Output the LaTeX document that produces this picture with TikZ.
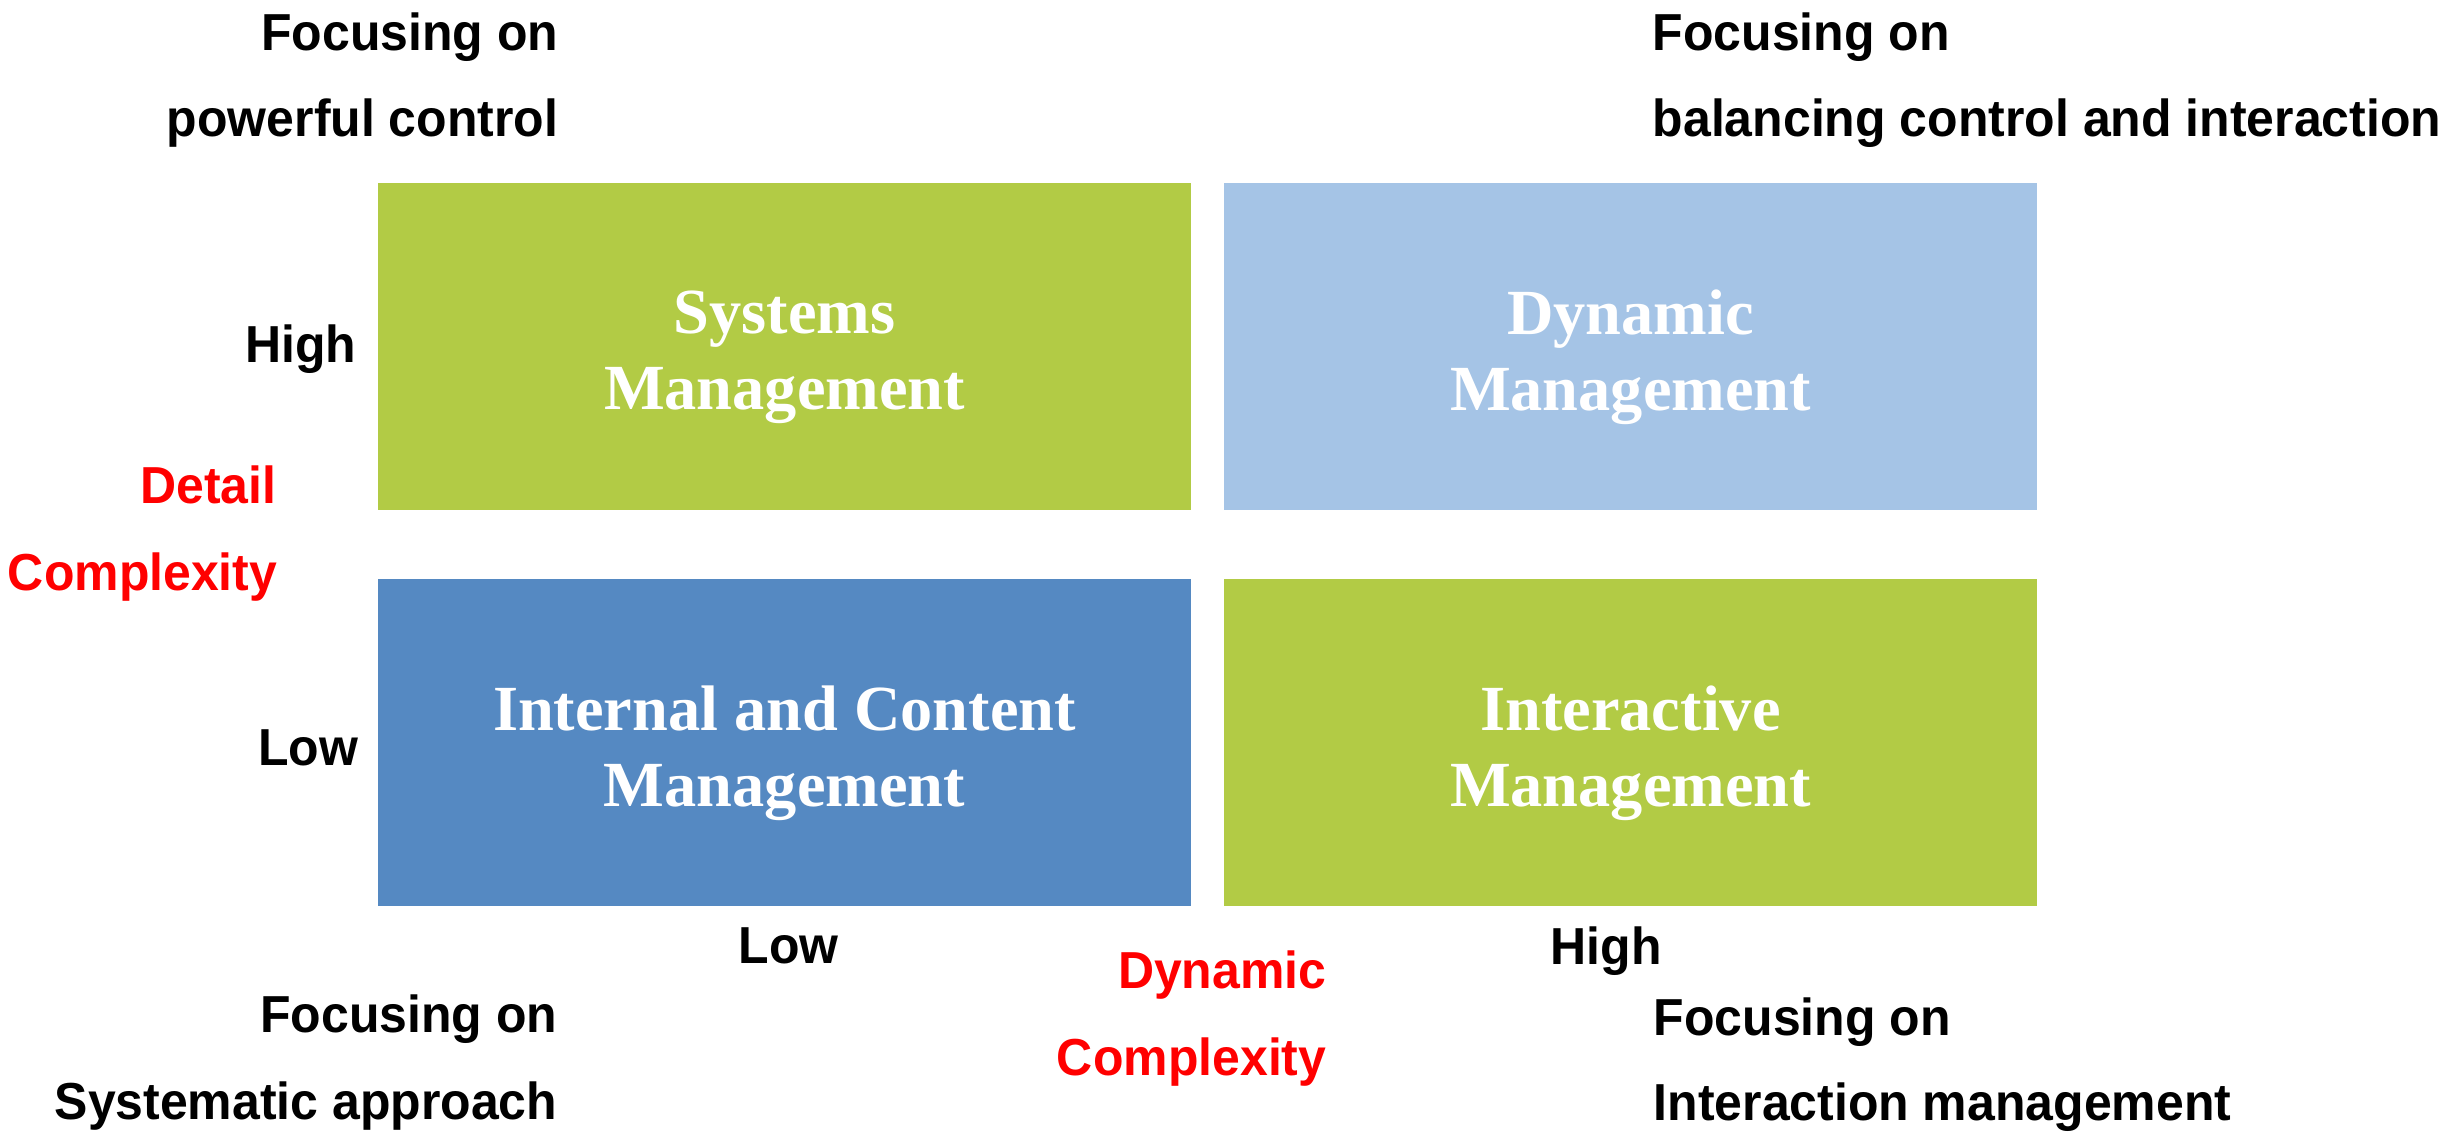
\documentclass[tikz,border=0pt]{standalone}
\usepackage{fontspec}
\setmainfont{Liberation Serif}
\newfontfamily\labfont[FakeStretch=0.96]{Liberation Sans}
\usetikzlibrary{positioning}
\definecolor{sysgreen}{HTML}{B2CB45}
\definecolor{dynblue}{HTML}{A5C4E6}
\definecolor{icmblue}{HTML}{5589C2}
\tikzset{
  quad/.style={draw=none, minimum width=8.13cm, minimum height=3.27cm, inner sep=0pt},
  quadtext/.style={inner sep=0pt, yshift=-0.11cm, text=white, align=center,
    font=\fontsize{18.3}{21.5}\selectfont\bfseries},
  lab/.style={inner sep=0pt, font=\labfont\fontsize{14.8}{17}\selectfont\bfseries},
  redlab/.style={lab, text=red}
}

\begin{document}
\begin{tikzpicture}[x=0.01cm, y=-0.01cm]
			%%%%% START %%%%%
			
			\useasboundingbox (0, 0) rectangle (2458, 1138);
			
			\node[quad, fill=sysgreen] (sys) at (784.5, 346.5) {};
			\node[quad, fill=dynblue] (dyn) at (1630.5, 346.5) {};
			\node[quad, fill=icmblue] (icm) at (784.5, 742.5) {};
			\node[quad, fill=sysgreen] (inter) at (1630.5, 742.5) {};
			
			\node[quadtext] (sysT) at (sys.center) {Systems\\Management};
			\node[quadtext] (dynT) at (dyn.center) {Dynamic\\Management};
			\node[quadtext] (icmT) at (icm.center) {Internal and Content\\Management};
			\node[quadtext] (interT) at (inter.center) {Interactive\\Management};
			
			\node[lab, anchor=base east] (tlA) at (559, 50) {Focusing on};
			\node[lab, anchor=base east] (tlB) at (559, 136) {powerful control};
			\node[lab, anchor=base west] (trA) at (1652, 50) {Focusing on};
			\node[lab, anchor=base west] (trB) at (1652, 136) {balancing control and interaction};
			
			\node[lab, anchor=base east] (yHigh) at (357, 362) {High};
			\node[lab, anchor=base east] (yLow) at (359, 765) {Low};
			\node[redlab, anchor=base east] (yAxA) at (277, 503) {Detail};
			\node[redlab, anchor=base east] (yAxB) at (278, 590) {Complexity};
			
			\node[lab, anchor=base west] (xLow) at (738, 963) {Low};
			\node[lab, anchor=base west] (xHigh) at (1550, 964) {High};
			\node[redlab, anchor=base east] (xAxA) at (1327, 988) {Dynamic};
			\node[redlab, anchor=base east] (xAxB) at (1327, 1075) {Complexity};
			
			\node[lab, anchor=base east] (blA) at (558, 1032) {Focusing on};
			\node[lab, anchor=base east] (blB) at (558, 1119) {Systematic approach};
			\node[lab, anchor=base west] (brA) at (1653, 1035) {Focusing on};
			\node[lab, anchor=base west] (brB) at (1653, 1120) {Interaction management};
			
			%%%%% END %%%%%
\end{tikzpicture}
\end{document}
